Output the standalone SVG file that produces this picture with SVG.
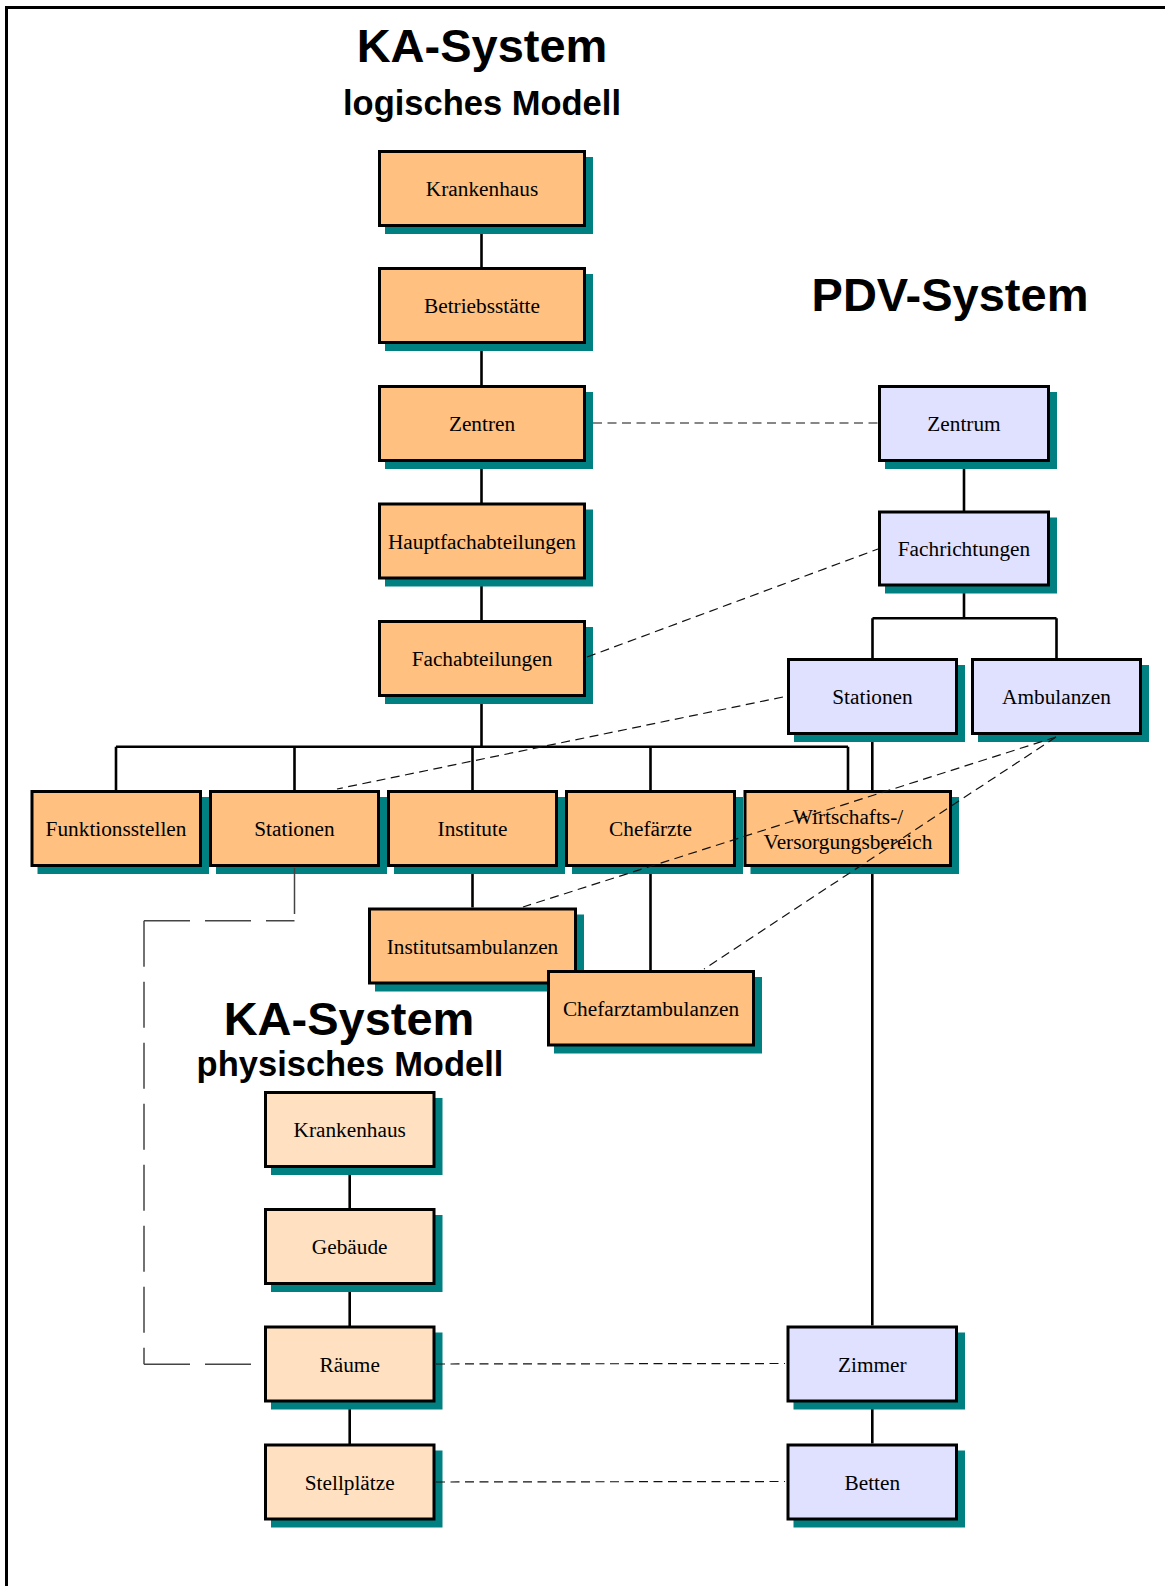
<svg xmlns="http://www.w3.org/2000/svg" width="1165" height="1586" viewBox="0 0 1165 1586">
  <style>
    .sh { fill: #008080; }
    .box { stroke: #000; stroke-width: 3; }
    .lg { fill: #FFC080; }
    .ph { fill: #FFE0C0; }
    .pdv { fill: #E0E0FF; }
    .lbl { font-family: "Liberation Serif", "Times New Roman", serif; font-size: 21.3px; text-anchor: middle; fill: #000; }
    .ttl { font-family: "Liberation Sans", Arial, sans-serif; font-weight: bold; text-anchor: middle; fill: #000; }
    .big { font-size: 47px; }
    .sub { font-size: 34.5px; }
    .tree { stroke: #000; stroke-width: 2.6; fill: none; }
    .map { stroke: #111; stroke-width: 1.2; stroke-dasharray: 9 5.5; fill: none; }
    .link { stroke: #444; stroke-width: 1.5; stroke-dasharray: 46 15; fill: none; }
  </style>

  <rect width="1165" height="1586" fill="#fff"/>
  <!-- page frame (top and left edges) -->
  <path d="M6.5 1586 V7.5 H1165" fill="none" stroke="#000" stroke-width="3"/>

  <!-- headings -->
  <g id="titles">
    <text class="ttl big" x="482" y="62">KA-System</text>
    <text class="ttl sub" x="482" y="115">logisches Modell</text>
    <text class="ttl big" x="950" y="311">PDV-System</text>
    <text class="ttl big" x="349" y="1035">KA-System</text>
    <text class="ttl sub" x="350" y="1076">physisches Modell</text>
  </g>

  <!-- hierarchy lines (below the boxes) -->
  <g id="connectors-tree" class="tree">
    <path d="M481.5 227 V746.7"/>
    <path d="M116 746.7 H848"/>
    <path d="M116 746.7 V790 M294.5 746.7 V790 M472.5 746.7 V790 M650.5 746.7 V790 M848 746.7 V790"/>
    <path d="M472.5 867 V907.5"/>
    <path d="M650.5 867 V970"/>
    <path d="M964 462 V511 M964 586 V618.3 M872.5 618.3 H1056.5 M872.5 618.3 V658 M1056.5 618.3 V658"/>
    <path d="M872.3 735 V1325.5 M872.3 1402 V1443.5"/>
    <path d="M349.7 1168 V1208 M349.7 1285 V1326 M349.7 1402 V1444"/>
  </g>

  <!-- logical model -->
  <g id="lg-krankenhaus">
    <rect class="sh" x="385" y="157" width="208" height="77"/>
    <rect class="box lg" x="379.5" y="151.5" width="205" height="74"/>
    <text class="lbl" x="482" y="196">Krankenhaus</text>
  </g>
  <g id="lg-betriebsstaette">
    <rect class="sh" x="385" y="274" width="208" height="77"/>
    <rect class="box lg" x="379.5" y="268.5" width="205" height="74"/>
    <text class="lbl" x="482" y="313">Betriebsstätte</text>
  </g>
  <g id="lg-zentren">
    <rect class="sh" x="385" y="392" width="208" height="77"/>
    <rect class="box lg" x="379.5" y="386.5" width="205" height="74"/>
    <text class="lbl" x="482" y="431">Zentren</text>
  </g>
  <g id="lg-hauptfachabteilungen">
    <rect class="sh" x="385" y="509.5" width="208" height="77"/>
    <rect class="box lg" x="379.5" y="504" width="205" height="74"/>
    <text class="lbl" x="482" y="548.5">Hauptfachabteilungen</text>
  </g>
  <g id="lg-fachabteilungen">
    <rect class="sh" x="385" y="627" width="208" height="77"/>
    <rect class="box lg" x="379.5" y="621.5" width="205" height="74"/>
    <text class="lbl" x="482" y="666">Fachabteilungen</text>
  </g>

  <g id="lg-funktionsstellen">
    <rect class="sh" x="37.5" y="797" width="171.5" height="77"/>
    <rect class="box lg" x="32" y="791.5" width="168.5" height="74"/>
    <text class="lbl" x="116" y="836">Funktionsstellen</text>
  </g>
  <g id="lg-stationen">
    <rect class="sh" x="216" y="797" width="171" height="77"/>
    <rect class="box lg" x="210.5" y="791.5" width="168" height="74"/>
    <text class="lbl" x="294.5" y="836">Stationen</text>
  </g>
  <g id="lg-institute">
    <rect class="sh" x="394" y="797" width="171" height="77"/>
    <rect class="box lg" x="388.5" y="791.5" width="168" height="74"/>
    <text class="lbl" x="472.5" y="836">Institute</text>
  </g>
  <g id="lg-chefaerzte">
    <rect class="sh" x="572" y="797" width="171" height="77"/>
    <rect class="box lg" x="566.5" y="791.5" width="168" height="74"/>
    <text class="lbl" x="650.5" y="836">Chefärzte</text>
  </g>
  <g id="lg-wirtschaftsbereich">
    <rect class="sh" x="750.5" y="797" width="208.5" height="77"/>
    <rect class="box lg" x="745" y="791.5" width="205.5" height="74"/>
    <text class="lbl" x="848" y="823.5">Wirtschafts-/</text>
    <text class="lbl" x="848" y="848.5">Versorgungsbereich</text>
  </g>

  <g id="lg-institutsambulanzen">
    <rect class="sh" x="375" y="914.5" width="209" height="77"/>
    <rect class="box lg" x="369.5" y="909" width="206" height="74"/>
    <text class="lbl" x="472.5" y="953.5">Institutsambulanzen</text>
  </g>
  <g id="lg-chefarztambulanzen">
    <rect class="sh" x="554" y="977" width="208" height="76.5"/>
    <rect class="box lg" x="548.5" y="971.5" width="205" height="73.5"/>
    <text class="lbl" x="651" y="1015.5">Chefarztambulanzen</text>
  </g>

  <!-- physical model -->
  <g id="ph-krankenhaus">
    <rect class="sh" x="271" y="1098" width="171.5" height="77"/>
    <rect class="box ph" x="265.5" y="1092.5" width="168.5" height="74"/>
    <text class="lbl" x="349.7" y="1137">Krankenhaus</text>
  </g>
  <g id="ph-gebaeude">
    <rect class="sh" x="271" y="1215" width="171.5" height="77"/>
    <rect class="box ph" x="265.5" y="1209.5" width="168.5" height="74"/>
    <text class="lbl" x="349.7" y="1254">Gebäude</text>
  </g>
  <g id="ph-raeume">
    <rect class="sh" x="271" y="1332.5" width="171.5" height="77"/>
    <rect class="box ph" x="265.5" y="1327" width="168.5" height="74"/>
    <text class="lbl" x="349.7" y="1371.5">Räume</text>
  </g>
  <g id="ph-stellplaetze">
    <rect class="sh" x="271" y="1450.5" width="171.5" height="77"/>
    <rect class="box ph" x="265.5" y="1445" width="168.5" height="74"/>
    <text class="lbl" x="349.7" y="1489.5">Stellplätze</text>
  </g>

  <!-- PDV system -->
  <g id="pdv-zentrum">
    <rect class="sh" x="885" y="392" width="172" height="77"/>
    <rect class="box pdv" x="879.5" y="386.5" width="169" height="74"/>
    <text class="lbl" x="964" y="431">Zentrum</text>
  </g>
  <g id="pdv-fachrichtungen">
    <rect class="sh" x="885" y="517.5" width="172" height="76"/>
    <rect class="box pdv" x="879.5" y="512" width="169" height="73"/>
    <text class="lbl" x="964" y="556">Fachrichtungen</text>
  </g>
  <g id="pdv-stationen">
    <rect class="sh" x="794" y="665" width="171" height="77"/>
    <rect class="box pdv" x="788.5" y="659.5" width="168" height="74"/>
    <text class="lbl" x="872.5" y="704">Stationen</text>
  </g>
  <g id="pdv-ambulanzen">
    <rect class="sh" x="978" y="665" width="171" height="77"/>
    <rect class="box pdv" x="972.5" y="659.5" width="168" height="74"/>
    <text class="lbl" x="1056.5" y="704">Ambulanzen</text>
  </g>
  <g id="pdv-zimmer">
    <rect class="sh" x="793.5" y="1332.5" width="171.5" height="77"/>
    <rect class="box pdv" x="788" y="1327" width="168.5" height="74"/>
    <text class="lbl" x="872.3" y="1371.5">Zimmer</text>
  </g>
  <g id="pdv-betten">
    <rect class="sh" x="793.5" y="1450.5" width="171.5" height="77"/>
    <rect class="box pdv" x="788" y="1445" width="168.5" height="74"/>
    <text class="lbl" x="872.3" y="1489.5">Betten</text>
  </g>

  <!-- correspondences between the models (drawn over the boxes) -->
  <g id="connectors-mapping">
    <g class="map">
      <line x1="593" y1="423" x2="878" y2="423"/>
      <line x1="587" y1="657" x2="878" y2="549"/>
      <line x1="783" y1="697" x2="337" y2="789"/>
      <line x1="1056" y1="737" x2="523" y2="907"/>
      <line x1="1056" y1="737" x2="704" y2="969"/>
      <line x1="436" y1="1364" x2="785" y2="1363.5"/>
      <line x1="436" y1="1482" x2="785" y2="1481.5"/>
    </g>
    <g class="link">
      <line x1="294.5" y1="868" x2="294.5" y2="914"/>
      <line x1="144" y1="920.7" x2="294.5" y2="920.7"/>
      <line x1="144" y1="920.7" x2="144" y2="1364.3"/>
      <line x1="144" y1="1364.3" x2="251.7" y2="1364.3"/>
    </g>
  </g>
</svg>
